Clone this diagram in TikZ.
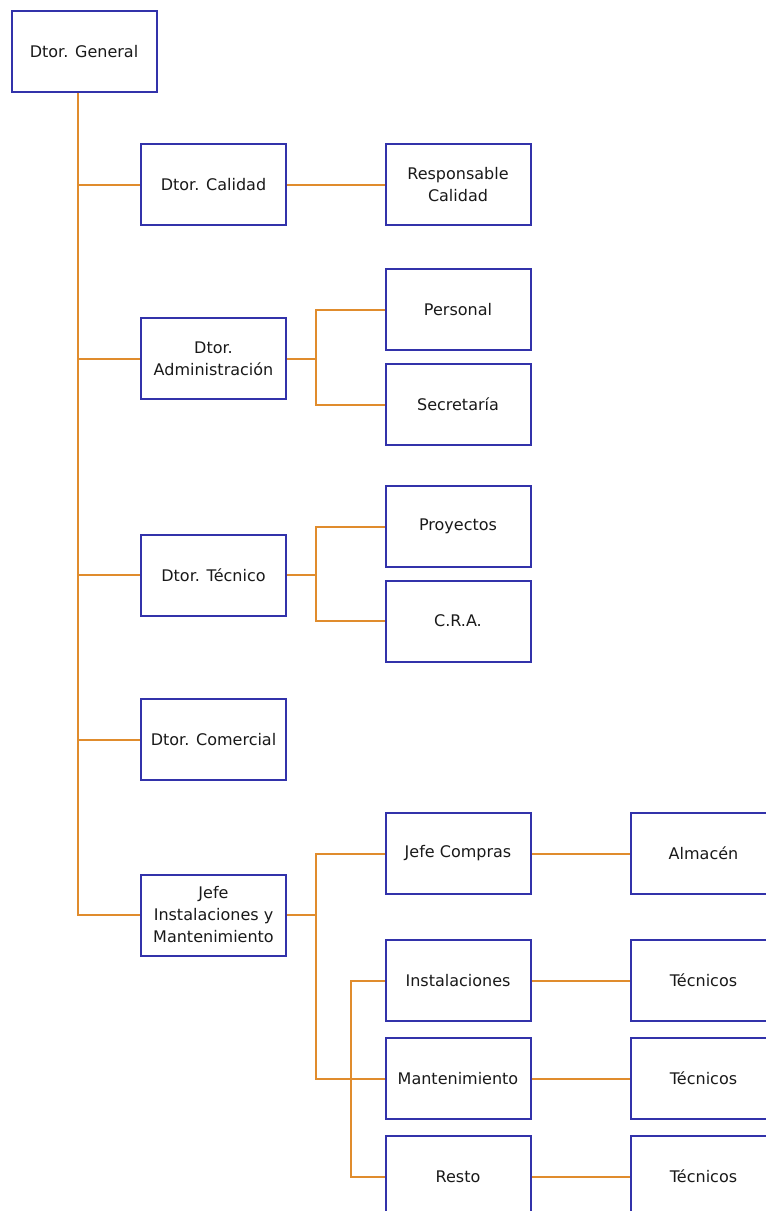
\documentclass[tikz,border=0pt]{standalone}
\usepackage{fontspec}
\setmainfont{DejaVu Sans}
\usepackage{tikz}
\usetikzlibrary{positioning}
\definecolor{boxblue}{RGB}{50,50,170}
\definecolor{lineorange}{RGB}{224,140,45}

\begin{document}
\begin{tikzpicture}[x=1pt, y=-1pt, every text node part/.style={align=center},
  box/.style={draw=boxblue, line width=2pt, rectangle, minimum width=145pt, minimum height=81pt, inner sep=0pt, text=black!90, font=\fontsize{16}{22}\selectfont},
  link/.style={draw=lineorange, line width=2pt}]
\useasboundingbox (0,0) rectangle (766,1211);
\clip (0,0) rectangle (766,1211);
\draw
  node (gen) at (84,51.5)[box]{Dtor. General}
  node (cal) at (213.5,184.5)[box]{Dtor. Calidad}
  node (resp) at (458,184.5)[box]{Responsable \\ Calidad}
  node (adm) at (213.5,358.5)[box]{Dtor. \\ Administración}
  node (pers) at (458,309.5)[box]{Personal}
  node (secr) at (458,404.5)[box]{Secretaría}
  node (tec) at (213.5,575)[box]{Dtor. Técnico}
  node (proy) at (458,526.5)[box]{Proyectos}
  node (cra) at (458,621)[box]{C.R.A.}
  node (com) at (213.5,739.5)[box]{Dtor. Comercial}
  node (jefe) at (213.5,915)[box]{Jefe \\ Instalaciones y \\ Mantenimiento}
  node (comp) at (458,853.5)[box]{Jefe Compras}
  node (alm) at (703.5,853.5)[box]{Almacén}
  node (inst) at (458,980.5)[box]{Instalaciones}
  node (tecA) at (703.5,980.5)[box]{Técnicos}
  node (mant) at (458,1078.5)[box]{Mantenimiento}
  node (tecB) at (703.5,1078.5)[box]{Técnicos}
  node (rest) at (458,1176.5)[box]{Resto}
  node (tecC) at (703.5,1176.5)[box]{Técnicos};

% connection points
\coordinate (trunk) at (78,915);
\coordinate (forkA) at (316,0);
\coordinate (forkB) at (351,0);

% main trunk
\draw[link] (gen.south -| trunk) -- (trunk) -- (jefe.west);
\draw[link] (cal.west -| trunk) -- (cal.west);
\draw[link] (adm.west -| trunk) -- (adm.west);
\draw[link] (tec.west -| trunk) -- (tec.west);
\draw[link] (com.west -| trunk) -- (com.west);

% second level
\draw[link] (cal.east) -- (resp.west);
\draw[link] (adm.east) -- (adm.east -| forkA);
\draw[link] (pers.west) -- (pers.west -| forkA) -- (secr.west -| forkA) -- (secr.west);
\draw[link] (tec.east) -- (tec.east -| forkA);
\draw[link] (proy.west) -- (proy.west -| forkA) -- (cra.west -| forkA) -- (cra.west);
\draw[link] (jefe.east) -- (jefe.east -| forkA);
\draw[link] (comp.west) -- (comp.west -| forkA) -- (mant.west -| forkA) -- (mant.west);
\draw[link] (inst.west) -- (inst.west -| forkB) -- (rest.west -| forkB) -- (rest.west);

% third level
\draw[link] (comp.east) -- (alm.west);
\draw[link] (inst.east) -- (tecA.west);
\draw[link] (mant.east) -- (tecB.west);
\draw[link] (rest.east) -- (tecC.west);
\end{tikzpicture}
\end{document}
